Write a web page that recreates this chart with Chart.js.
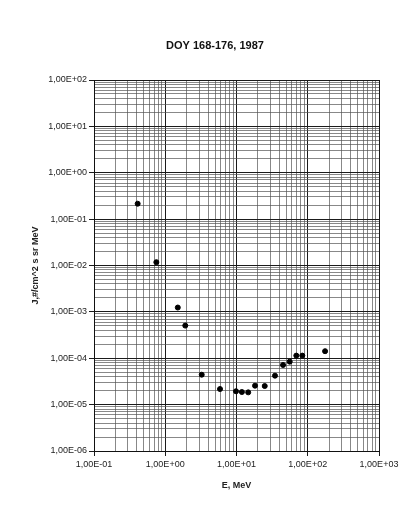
<!DOCTYPE html>
<html>
<head>
<meta charset="utf-8">
<script src="https://cdn.jsdelivr.net/npm/chart.js@4/dist/chart.umd.min.js"></script>
<style>
  html, body { margin: 0; padding: 0; background: #fff; }
  #wrap { width: 414px; height: 521px; position: relative; }
</style>
</head>
<body>
<div id="wrap"><canvas id="chart"></canvas></div>
<script>
const chartTitle = 'DOY 168-176, 1987';
const xAxisTitle = 'E, MeV';
const yAxisTitle = 'J,#/cm^2 s sr MeV';

// energy (MeV) and intensity
const energies = [0.41, 0.75, 1.5, 1.91, 3.25, 5.87, 9.84, 11.9, 14.6, 18.2, 24.9, 34.7, 45.0, 55.8, 69.1, 83.9, 175];
const fluxes = [0.215, 0.0118, 1.24e-3, 5.06e-4, 4.42e-5, 2.17e-5, 1.94e-5, 1.87e-5, 1.84e-5, 2.56e-5, 2.52e-5, 4.21e-5, 7.16e-5, 8.45e-5, 1.14e-4, 1.14e-4, 1.42e-4];

const xDecades = [0.1, 1, 10, 100, 1000];
const xTickLabels = ['1,00E-01', '1,00E+00', '1,00E+01', '1,00E+02', '1,00E+03'];
const yDecades = [1e-6, 1e-5, 1e-4, 1e-3, 1e-2, 1e-1, 1, 10, 100];
const yTickLabels = ['1,00E-06', '1,00E-05', '1,00E-04', '1,00E-03', '1,00E-02', '1,00E-01', '1,00E+00', '1,00E+01', '1,00E+02'];

function logTicks(decades) {
    let ticks = [];
    for (let i = 0; i < decades.length - 1; i++) {
        for (let k = 1; k <= 9; k++) {
            ticks.push({ value: k * decades[i], major: k === 1 });
        }
    }
    ticks.push({ value: decades[decades.length - 1], major: true });
    return ticks;
}

function labelFor(value, decades, labels) {
    for (let i = 0; i < decades.length; i++) {
        if (Math.abs(Math.log10(value) - Math.log10(decades[i])) < 1e-6) return labels[i];
    }
    return '';
}

const gridColor = ctx => (ctx.tick && ctx.tick.major) ? '#1a1a1a' : '#555';
const gridWidth = ctx => (ctx.tick && ctx.tick.major) ? 1 : 0.7;
const tickColor = ctx => (ctx.tick && ctx.tick.major) ? '#1a1a1a' : 'rgba(0,0,0,0)';
const tickFont = { family: '"Liberation Sans", Arial, sans-serif', size: 9 };
const axisTitleFont = { family: '"Liberation Sans", Arial, sans-serif', size: 9, weight: 'bold' };

const titlePlugin = {
    id: 'pageTitle',
    afterDraw(chart) {
        const ctx = chart.ctx;
        ctx.save();
        ctx.font = 'bold 11px "Liberation Sans", Arial, sans-serif';
        ctx.fillStyle = '#111';
        ctx.textAlign = 'center';
        ctx.textBaseline = 'middle';
        ctx.fillText(chartTitle, chart.width / 2 + 8, 46);
        ctx.restore();
    }
};

new Chart(document.getElementById('chart').getContext('2d'), {
    type: 'scatter',
    data: {
        datasets: [{
            data: energies.map((e, i) => ({ x: e, y: fluxes[i] })),
            backgroundColor: '#000',
            borderColor: '#000',
            borderWidth: 1,
            pointRadius: 2.5,
            pointHoverRadius: 2.5,
            pointStyle: 'circle'
        }]
    },
    options: {
        responsive: true,
        maintainAspectRatio: false,
        animation: false,
        layout: { padding: { left: 24, top: 80, right: 35, bottom: 20 } },
        plugins: {
            legend: { display: false },
            tooltip: { enabled: false }
        },
        scales: {
            x: {
                type: 'logarithmic',
                min: 0.1,
                max: 1000,
                afterBuildTicks: scale => { scale.ticks = logTicks(xDecades); },
                afterFit: scale => { scale.height = 50; },
                ticks: {
                    autoSkip: false,
                    maxRotation: 0,
                    padding: 3,
                    color: '#222',
                    font: tickFont,
                    callback: value => labelFor(value, xDecades, xTickLabels)
                },
                grid: { color: gridColor, lineWidth: gridWidth, tickColor: tickColor, tickLength: 5 },
                border: { display: true, color: '#111', width: 1 },
                title: {
                    display: true,
                    text: xAxisTitle,
                    color: '#222',
                    font: axisTitleFont,
                    padding: { top: 0, bottom: 10 }
                }
            },
            y: {
                type: 'logarithmic',
                min: 1e-6,
                max: 100,
                afterBuildTicks: scale => { scale.ticks = logTicks(yDecades); },
                afterFit: scale => { scale.width = 70; },
                ticks: {
                    autoSkip: false,
                    padding: 2,
                    color: '#222',
                    font: tickFont,
                    callback: value => labelFor(value, yDecades, yTickLabels)
                },
                grid: { color: gridColor, lineWidth: gridWidth, tickColor: tickColor, tickLength: 5 },
                border: { display: true, color: '#111', width: 1 },
                title: {
                    display: true,
                    text: yAxisTitle,
                    color: '#222',
                    font: axisTitleFont,
                    padding: { top: 6, bottom: 0 }
                }
            }
        }
    },
    plugins: [titlePlugin]
});
</script>
</body>
</html>
